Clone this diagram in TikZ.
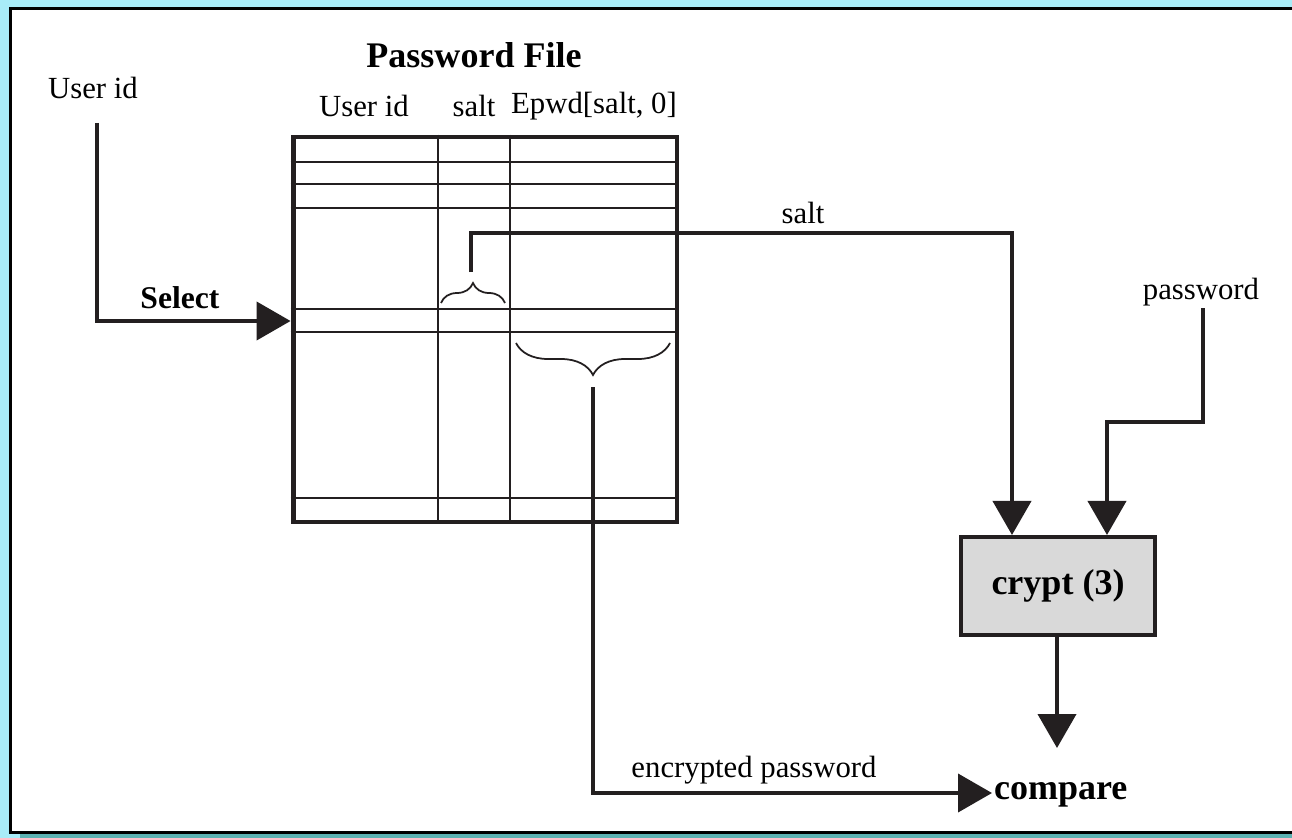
\documentclass[tikz,border=0pt]{standalone}
\usepackage{fontspec}
\setmainfont{Liberation Serif}
\usetikzlibrary{arrows.meta,decorations.pathreplacing}

\definecolor{sky}{RGB}{168,236,248}
\definecolor{teal2}{RGB}{92,178,178}
\definecolor{ink}{RGB}{35,31,32}
\definecolor{boxgray}{RGB}{217,217,217}

\begin{document}
\begin{tikzpicture}[x=0.02cm, y=-0.02cm,
    txt/.style={font=\fontsize{17.5}{20}\selectfont, inner sep=1pt},
    btxt/.style={font=\fontsize{20.5}{24}\selectfont\bfseries, inner sep=1pt},
    flow/.style={draw=ink, line width=2.3pt, -{Triangle[length=0.68cm, width=0.76cm]}},
    rowline/.style={draw=ink, line width=1.4pt},
    curly/.style={draw=ink, line width=1pt, decorate, decoration={brace}}]

    % Background and panel
    \useasboundingbox (0,0) rectangle (1292,838);
    \fill[sky] (0,0) rectangle (1292,838);
    \fill[teal2] (20,832) rectangle (1292,838);
    \fill[white] (10,8) rectangle (1292,833);
    \draw[black, line width=1.7pt] (1300,8.5) -- (10.5,8.5) -- (10.5,832.5) -- (1300,832.5);

    % Password file table
    \node[btxt] (title) at (474,55) {Password File};
    \node[txt] (hdruser) at (364,106) {User id};
    \node[txt] (hdrsalt) at (474,106) {salt};
    \node[txt] (hdrepwd) at (594,106) {Epwd[salt, 0]};
    \node[draw=ink, line width=2.8pt, minimum width=7.68cm, minimum height=7.7cm, inner sep=0pt]
        (pwfile) at (485,329.5) {};
    \foreach \y in {162,184,208,309,332,498}
        \draw[rowline] (pwfile.west |- 0,\y) -- (pwfile.east |- 0,\y);
    \foreach \x in {438,510}
        \draw[rowline] (pwfile.north -| \x,0) -- (pwfile.south -| \x,0);

    % Braces
    \draw[curly, decoration={amplitude=0.4cm}] (441,303) -- (505,303);
    \draw[curly, decoration={amplitude=0.64cm, mirror}] (516,343) -- (670,343);

    % User id select
    \node[txt] (userid) at (93,88) {User id};
    \coordinate (uidtop) at (97,123);
    \draw[flow] (uidtop) |- (pwfile.west |- 0,321);
    \node[font=\fontsize{18}{22}\selectfont\bfseries, inner sep=1pt] (select) at (180,298) {Select};

    % crypt box and compare
    \node[draw=ink, line width=2.3pt, fill=boxgray, minimum width=3.88cm, minimum height=1.96cm, btxt]
        (crypt) at (1058,586) {crypt (3)};
    \node[btxt, anchor=west] (compare) at (992,795) {compare};

    % salt to crypt
    \coordinate (saltout) at (471,272);
    \draw[flow] (saltout) |- (1012,233) -- (crypt.north -| 1012,0);
    \node[txt] (saltlbl) at (803,213) {salt};

    % password to crypt
    \node[txt] (pwd) at (1201,292) {password};
    \coordinate (pwdtop) at (1203,308);
    \draw[flow] (pwdtop) |- (1107,422) -- (crypt.north -| 1107,0);

    % encrypted password to compare
    \coordinate (epwdout) at (593,387);
    \draw[flow] (epwdout) |- (compare.west |- 0,793);
    \node[txt] (enclbl) at (754,770) {encrypted password};

    % crypt result to compare
    \draw[flow] (crypt.south -| 1057,0) -- (1057,748);
\end{tikzpicture}
\end{document}
